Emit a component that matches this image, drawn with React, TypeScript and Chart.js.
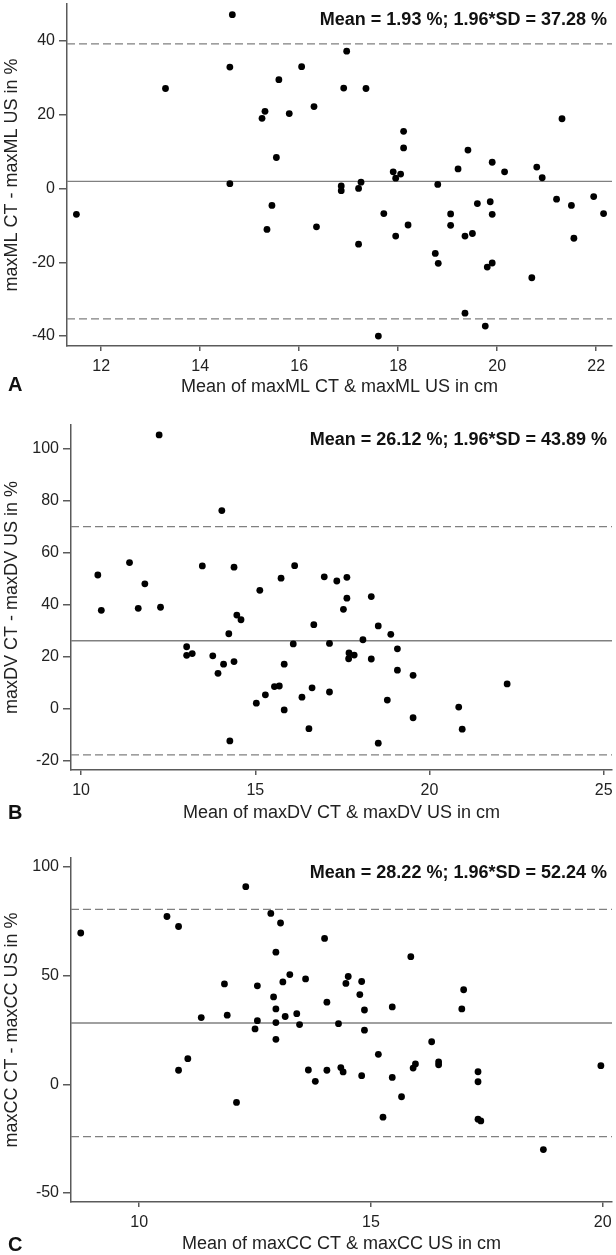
import React, { useEffect, useRef } from "react";
import { Chart, registerables } from "chart.js";
Chart.register(...registerables);

const FONT = '"Liberation Sans", Arial, Helvetica, sans-serif';

// ---------- Panel A : maxML ----------
const xA = [11.5, 13.3, 14.65, 14.6, 14.6, 15.59, 15.31, 15.25, 15.8, 15.54, 16.05, 16.3, 15.45, 15.35, 16.35, 16.96, 16.9, 17.35, 21.31, 18.11, 18.11, 19.41, 19.9, 19.21, 20.15, 20.8, 20.91, 17.9, 18.05, 17.95, 17.25, 18.8, 16.85, 16.85, 17.2, 21.2, 21.95, 21.5, 22.15, 19.6, 19.86, 19.9, 19.06, 19.06, 17.71, 18.2, 17.95, 17.2, 19.35, 19.5, 21.55, 18.75, 18.81, 19.9, 19.8, 20.7, 19.35, 19.76, 17.6];
const yA = [-7.0, 27.1, 47.1, 32.9, 1.3, 29.5, 20.9, 19.0, 20.3, 8.4, 33.0, 22.2, -4.6, -11.1, -10.4, 37.2, 27.2, 27.1, 18.9, 15.5, 11.0, 10.4, 7.1, 5.3, 4.5, 5.8, 2.9, 4.5, 3.9, 2.8, 1.7, 1.1, 0.7, -0.6, 0.0, -2.9, -2.2, -4.6, -6.8, -4.1, -3.6, -7.0, -6.9, -10.0, -6.8, -9.9, -12.9, -15.1, -12.9, -12.2, -13.5, -17.6, -20.3, -20.2, -21.3, -24.2, -33.8, -37.3, -40.0];
const meanA = 1.93;
const loaA = 37.28;
const xTicksA = [12, 14, 16, 18, 20, 22];
const yTicksA = [-40, -20, 0, 20, 40];

// ---------- Panel B : maxDV ----------
const xB = [12.24, 14.04, 10.48, 10.58, 11.39, 11.64, 11.83, 12.28, 13.48, 14.39, 14.47, 14.59, 14.24, 13.03, 13.03, 13.19, 13.78, 14.09, 13.93, 14.39, 14.27, 15.13, 15.74, 16.13, 16.68, 16.09, 15.83, 15.03, 15.29, 15.55, 15.69, 15.83, 16.34, 16.63, 16.54, 16.98, 17.34, 17.63, 17.63, 17.53, 18.33, 18.53, 18.89, 18.09, 17.13, 19.08, 17.69, 17.84, 17.68, 18.33, 19.08, 19.53, 22.23, 17.13, 18.79, 20.84, 19.53, 20.94, 18.53];
const yB = [105.3, 76.2, 51.4, 37.8, 56.2, 38.6, 48.0, 39.0, 54.9, 54.4, 36.0, 34.2, 28.8, 23.8, 20.5, 21.2, 20.3, 17.1, 13.6, 18.1, -12.4, 45.5, 50.2, 55.0, 32.3, 24.9, 17.1, 2.1, 5.3, 8.5, 8.7, -0.5, 4.4, 8.0, -7.7, 50.7, 49.1, 50.5, 42.5, 38.2, 43.1, 31.8, 28.6, 26.5, 25.1, 23.0, 21.4, 20.6, 19.2, 19.1, 14.8, 12.8, 9.5, 6.4, 3.3, 0.6, -3.5, -7.9, -13.3];
const meanB = 26.12;
const loaB = 43.89;
const xTicksB = [10, 15, 20, 25];
const yTicksB = [-20, 0, 20, 40, 60, 80, 100];

// ---------- Panel C : maxCC ----------
const xC = [8.74, 10.6, 10.85, 12.3, 12.84, 13.05, 12.95, 13.25, 13.1, 13.59, 11.84, 12.55, 12.9, 12.95, 13.15, 13.4, 13.46, 11.34, 11.9, 12.55, 12.95, 12.5, 12.95, 11.05, 10.85, 13.65, 13.8, 12.1, 14.0, 15.86, 14.51, 14.46, 14.8, 14.76, 17.0, 14.05, 14.86, 15.46, 16.96, 14.3, 14.86, 16.31, 15.16, 14.05, 14.35, 14.4, 14.8, 15.46, 15.91, 15.96, 16.46, 16.46, 17.31, 17.31, 15.66, 15.26, 17.31, 17.37, 18.72, 19.96];
const yC = [69.6, 77.2, 72.6, 90.9, 78.6, 74.2, 60.8, 50.5, 47.1, 48.5, 46.2, 45.3, 40.2, 34.7, 31.2, 32.5, 27.5, 30.7, 31.8, 29.3, 28.4, 25.5, 20.7, 11.8, 6.5, 6.6, 1.4, -8.3, 67.1, 58.7, 49.6, 46.4, 47.3, 41.3, 43.5, 37.8, 34.2, 35.6, 34.7, 27.9, 24.9, 19.6, 13.8, 6.5, 7.7, 5.7, 4.0, 3.2, 7.5, 9.4, 10.3, 9.0, 5.8, 1.2, -5.7, -15.1, -16.0, -16.8, -30.0, 8.6];
const meanC = 28.22;
const loaC = 52.24;
const xTicksC = [10, 15, 20];
const yTicksC = [-50, 0, 50, 100];

const textPlugin = {
  id: "panelText",
  afterDraw(chart: any, _args: any, opts: any) {
    const ctx = chart.ctx;
    ctx.save();
    ctx.fillStyle = "#111";
    ctx.textBaseline = "middle";
    ctx.font = `bold 18px ${FONT}`;
    ctx.textAlign = "right";
    ctx.fillText(opts.stat, 607, chart.chartArea.top + opts.statDy);
    ctx.font = `bold 20px ${FONT}`;
    ctx.textAlign = "left";
    ctx.fillText(opts.letter, 8, opts.letterY);
    ctx.restore();
  },
};

type PanelProps = {
  top: number;
  height: number;
  left: number;
  padTop: number;
  xHeight: number;
  xMin: number;
  xMax: number;
  yMin: number;
  yMax: number;
  xs: number[];
  ys: number[];
  mean: number;
  loa: number;
  xTicks: number[];
  yTicks: number[];
  xTitle: string;
  yTitle: string;
  letter: string;
  letterY: number;
  titlePad: number;
  statDy: number;
};

function Panel(p: PanelProps) {
  const ref = useRef<HTMLCanvasElement | null>(null);
  useEffect(() => {
    if (!ref.current) return;
    const axisColor = "#5a5a5a";
    const refColor = "#808080";
    const line = (y: number, dash: number[]) => ({
      type: "line" as const,
      data: [
        { x: p.xMin, y },
        { x: p.xMax, y },
      ],
      borderColor: refColor,
      borderWidth: 1.3,
      borderDash: dash,
      pointRadius: 0,
      showLine: true,
      fill: false,
      order: 2,
    });
    const chart = new Chart(ref.current, {
      type: "scatter",
      data: {
        datasets: [
          {
            data: p.xs.map((x, i) => ({ x, y: p.ys[i] })),
            backgroundColor: "#000",
            borderColor: "#000",
            borderWidth: 0,
            pointRadius: 3.4,
            order: 0,
          } as any,
          line(p.mean, []),
          line(p.mean + p.loa, [8, 4]),
          line(p.mean - p.loa, [8, 4]),
        ],
      },
      options: {
        responsive: false,
        animation: false,
        devicePixelRatio: 1,
        layout: { padding: { top: p.padTop, right: 2.7, bottom: 0, left: 0 } },
        plugins: {
          legend: { display: false },
          tooltip: { enabled: false },
          panelText: {
            stat: `Mean = ${p.mean.toFixed(2)} %; 1.96*SD = ${p.loa.toFixed(2)} %`,
            letter: p.letter,
            letterY: p.letterY,
            statDy: p.statDy,
          },
        } as any,
        scales: {
          x: {
            type: "linear",
            min: p.xMin,
            max: p.xMax,
            afterBuildTicks: (s: any) => {
              s.ticks = p.xTicks.map((v) => ({ value: v }));
            },
            afterFit: (s: any) => {
              s.height = p.xHeight;
              s.paddingLeft = 0;
              s.paddingRight = 0;
            },
            grid: {
              drawOnChartArea: false,
              drawTicks: true,
              tickLength: 5,
              color: axisColor,
              lineWidth: 1.5,
            },
            border: { display: true, color: axisColor, width: 1.5 },
            ticks: {
              color: "#222",
              font: { family: FONT, size: 16 },
              padding: 6,
              maxRotation: 0,
              autoSkip: false,
            },
            title: {
              display: true,
              text: p.xTitle,
              color: "#222",
              font: { family: FONT, size: 18 },
              padding: { top: 0, bottom: p.titlePad },
            },
          },
          y: {
            type: "linear",
            min: p.yMin,
            max: p.yMax,
            afterBuildTicks: (s: any) => {
              s.ticks = p.yTicks.map((v) => ({ value: v }));
            },
            afterFit: (s: any) => {
              s.width = p.left;
              s.paddingTop = 0;
              s.paddingBottom = 0;
            },
            grid: {
              drawOnChartArea: false,
              drawTicks: true,
              tickLength: 8,
              color: axisColor,
              lineWidth: 1.5,
            },
            border: { display: true, color: axisColor, width: 1.5 },
            ticks: {
              color: "#222",
              font: { family: FONT, size: 16 },
              padding: 4,
              autoSkip: false,
            },
            title: {
              display: true,
              text: p.yTitle,
              color: "#222",
              font: { family: FONT, size: 18 },
              padding: { top: 1.5, bottom: 0 },
            },
          },
        },
      } as any,
      plugins: [textPlugin as any],
    });
    return () => chart.destroy();
  }, []);
  return (
    <canvas
      ref={ref}
      width={616}
      height={p.height}
      style={{ position: "absolute", left: 0, top: p.top, width: 616, height: p.height }}
    />
  );
}

export default function App() {
  useEffect(() => {
    document.body.style.margin = "0";
    document.body.style.background = "#fff";
  }, []);
  return (
    <div style={{ position: "relative", width: 616, height: 1255, background: "#fff", overflow: "hidden" }}>
      <Panel
        top={0}
        height={410}
        left={67}
        padTop={0}
        xHeight={64}
        xMin={11.31}
        xMax={22.32}
        yMin={-42.7}
        yMax={50}
        xs={xA}
        ys={yA}
        mean={meanA}
        loa={loaA}
        xTicks={xTicksA}
        yTicks={yTicksA}
        xTitle="Mean of maxML CT & maxML US in cm"
        yTitle="maxML CT - maxML US in %"
        letter="A"
        letterY={385}
        titlePad={11.7}
        statDy={16.5}
      />
      <Panel
        top={410}
        height={420}
        left={71}
        padTop={15}
        xHeight={60}
        xMin={9.71}
        xMax={25.24}
        yMin={-23.6}
        yMax={109.1}
        xs={xB}
        ys={yB}
        mean={meanB}
        loa={loaB}
        xTicks={xTicksB}
        yTicks={yTicksB}
        xTitle="Mean of maxDV CT & maxDV US in cm"
        yTitle="maxDV CT - maxDV US in %"
        letter="B"
        letterY={403.5}
        titlePad={6.2}
        statDy={15}
      />
      <Panel
        top={830}
        height={425}
        left={71}
        padTop={28}
        xHeight={53}
        xMin={8.53}
        xMax={20.2}
        yMin={-54.1}
        yMax={104.1}
        xs={xC}
        ys={yC}
        mean={meanC}
        loa={loaC}
        xTicks={xTicksC}
        yTicks={yTicksC}
        xTitle="Mean of maxCC CT & maxCC US in cm"
        yTitle="maxCC CT - maxCC US in %"
        letter="C"
        letterY={415}
        titlePad={0}
        statDy={15}
      />
    </div>
  );
}
